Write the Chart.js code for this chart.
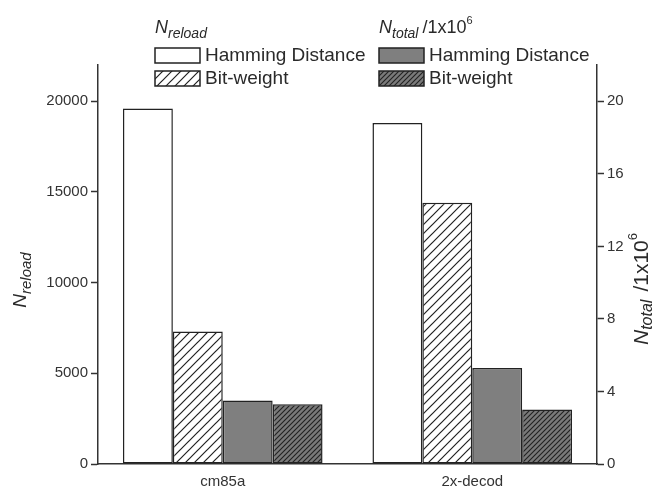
<!DOCTYPE html>
<html>
<head>
<meta charset="utf-8">
<script src="https://cdn.jsdelivr.net/npm/chart.js@4.4.1/dist/chart.umd.min.js"></script>
<style>
  html, body { margin: 0; padding: 0; background: #fff; }
  #wrap { width: 653px; height: 487px; position: relative; }
</style>
</head>
<body>
<div id="wrap"><canvas id="reloadChart"></canvas></div>
<script>
// benchmark circuits and the counts per method
const categories = ['cm85a', '2x-decod'];
const reloadHamming = [19600, 18800];
const reloadBitWeight = [7300, 14400];
const totalHamming = [3.5, 5.3];      // in units of 1x10^6
const totalBitWeight = [3.3, 3.0];    // in units of 1x10^6
const reloadTicks = [0, 5000, 10000, 15000, 20000];
const totalTicks = [0, 4, 8, 12, 16, 20];
const seriesNames = ['Hamming Distance', 'Bit-weight'];

const FONT = '"Liberation Sans", Arial, sans-serif';
const INK = '#2a2a2a';

// diagonal "/" hatch as a repeating pattern
function makeHatch(bg, line, gap, width) {
  const c = document.createElement('canvas');
  c.width = gap;
  c.height = gap;
  const g = c.getContext('2d');
  g.fillStyle = bg;
  g.fillRect(0, 0, gap, gap);
  g.strokeStyle = line;
  g.lineWidth = width;
  g.beginPath();
  for (let k = 0; k <= 2; k++) {
    g.moveTo(-1, k * gap + 1);
    g.lineTo(k * gap + 1, -1);
  }
  g.stroke();
  return g.createPattern(c, 'repeat');
}

const hatchLight = makeHatch('#ffffff', '#222222', 9, 1.2);
const hatchDark = makeHatch('#7a7a7a', '#222222', 5, 1.1);

// draws a run of text pieces, each with its own size / offset (sub and superscripts)
function drawRuns(ctx, x, y, runs) {
  ctx.textBaseline = 'alphabetic';
  ctx.textAlign = 'left';
  let cx = x;
  runs.forEach(r => {
    ctx.font = (r.italic ? 'italic ' : '') + r.size + 'px ' + FONT;
    ctx.fillText(r.text, cx, y + (r.dy || 0));
    cx += ctx.measureText(r.text).width + (r.gap || 0);
  });
  return cx - x;
}

function runsWidth(ctx, runs) {
  let w = 0;
  runs.forEach(r => {
    ctx.font = (r.italic ? 'italic ' : '') + r.size + 'px ' + FONT;
    w += ctx.measureText(r.text).width + (r.gap || 0);
  });
  return w;
}

const reloadTitle = [
  { text: 'N', size: 19, italic: true },
  { text: 'reload', size: 15, italic: true, dy: 5 }
];
const totalTitle = [
  { text: 'N', size: 21, italic: true },
  { text: 'total', size: 16, italic: true, dy: 4, gap: 8 },
  { text: '/1x10', size: 21 },
  { text: '6', size: 13, dy: -11 }
];

const titlesAndLegend = {
  id: 'titlesAndLegend',
  afterDraw(chart) {
    const ctx = chart.ctx;
    ctx.save();
    ctx.fillStyle = INK;

    // rotated axis titles: [baseline x, centre y, runs]
    [[26, 280, reloadTitle], [648, 289, totalTitle]].forEach(([x, y, runs]) => {
      ctx.save();
      ctx.translate(x, y);
      ctx.rotate(-Math.PI / 2);
      drawRuns(ctx, -runsWidth(ctx, runs) / 2, 0, runs);
      ctx.restore();
    });

    // two legend columns, one per value axis
    const headers = [
      [{ text: 'N', size: 18, italic: true }, { text: 'reload', size: 14, italic: true, dy: 5 }],
      [{ text: 'N', size: 18, italic: true }, { text: 'total', size: 14, italic: true, dy: 5, gap: 4 },
       { text: '/1x10', size: 18 }, { text: '6', size: 11, dy: -9 }]
    ];
    const colX = [155, 379];
    headers.forEach((runs, col) => {
      ctx.fillStyle = INK;
      drawRuns(ctx, colX[col], 33, runs);
      for (let row = 0; row < 2; row++) {
        const ds = chart.data.datasets[col * 2 + row];
        const bx = colX[col];
        const by = 48 + row * 23;
        ctx.fillStyle = ds.backgroundColor;
        ctx.fillRect(bx, by, 45, 15);
        ctx.strokeStyle = '#222';
        ctx.lineWidth = 1.5;
        ctx.strokeRect(bx, by, 45, 15);
        ctx.fillStyle = INK;
        ctx.font = '19px ' + FONT;
        ctx.textBaseline = 'middle';
        ctx.fillText(ds.label, bx + 50, by + 8);
      }
    });
    ctx.restore();
  }
};

const ctx = document.getElementById('reloadChart').getContext('2d');

const barStyle = { borderColor: '#222', borderWidth: 1.5, borderSkipped: false };
const plainNumber = v => String(v);

new Chart(ctx, {
  type: 'bar',
  data: {
    labels: categories,
    datasets: [
      Object.assign({ label: seriesNames[0], data: reloadHamming, yAxisID: 'y', backgroundColor: '#ffffff' }, barStyle),
      Object.assign({ label: seriesNames[1], data: reloadBitWeight, yAxisID: 'y', backgroundColor: hatchLight }, barStyle),
      Object.assign({ label: seriesNames[0], data: totalHamming, yAxisID: 'y1', backgroundColor: '#7f7f7f' }, barStyle),
      Object.assign({ label: seriesNames[1], data: totalBitWeight, yAxisID: 'y1', backgroundColor: hatchDark }, barStyle)
    ]
  },
  options: {
    responsive: true,
    maintainAspectRatio: false,
    animation: false,
    layout: { padding: { top: 65, left: 0, right: 0, bottom: 0 } },
    datasets: { bar: { categoryPercentage: 0.8, barPercentage: 1.0 } },
    plugins: {
      legend: { display: false },
      tooltip: { enabled: false }
    },
    scales: {
      x: {
        grid: { display: false },
        border: { display: true, color: '#333', width: 1.5 },
        ticks: { color: '#333', font: { family: FONT, size: 15 }, padding: 1 },
        afterFit: s => { s.height = 23; }
      },
      y: {
        position: 'left',
        min: 0,
        max: 22000,
        afterBuildTicks: s => { s.ticks = reloadTicks.map(v => ({ value: v })); },
        grid: { drawOnChartArea: false, drawTicks: true, tickLength: 7, color: '#333', tickWidth: 1.5 },
        border: { display: true, color: '#333', width: 1.5 },
        ticks: { color: '#333', font: { family: FONT, size: 15 }, padding: 3, callback: plainNumber },
        afterFit: s => { s.width = 98; }
      },
      y1: {
        position: 'right',
        min: 0,
        max: 22,
        afterBuildTicks: s => { s.ticks = totalTicks.map(v => ({ value: v })); },
        grid: { drawOnChartArea: false, drawTicks: true, tickLength: 7, color: '#333', tickWidth: 1.5 },
        border: { display: true, color: '#333', width: 1.5 },
        ticks: { color: '#333', font: { family: FONT, size: 15 }, padding: 3, callback: plainNumber },
        afterFit: s => { s.width = 56; }
      }
    }
  },
  plugins: [titlesAndLegend]
});
</script>
</body>
</html>
